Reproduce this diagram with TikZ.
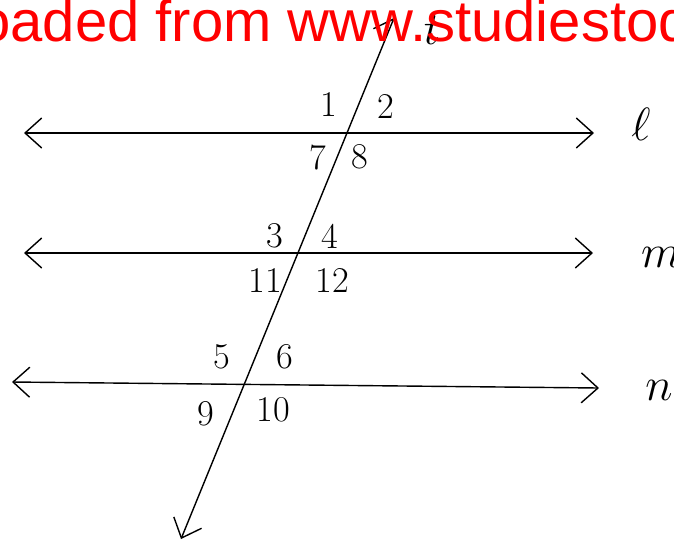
\documentclass[tikz,border=0pt]{standalone}
\usepackage{fontspec}
\newfontfamily\wmfont{Liberation Sans}
\usetikzlibrary{arrows.meta, calc}
\tikzset{
    retta/.style={line width=1.2pt, {Straight Barb[length=5mm,width=9mm,line width=1.2pt]}-{Straight Barb[length=5mm,width=9mm,line width=1.2pt]}},
    angolo/.style={font=\fontsize{31}{31}\selectfont},
    nome/.style={font=\Huge, scale=1.6}
}

\begin{document}
\begin{tikzpicture}[x=0.03cm, y=-0.03cm]
    \useasboundingbox (0,0) rectangle (674,546);
    \clip (0,0) rectangle (674,546);

    % Estremi delle rette parallele e della trasversale
    \coordinate (lA) at (24,133);  \coordinate (lB) at (594,133);
    \coordinate (mA) at (24,253);  \coordinate (mB) at (593,253);
    \coordinate (nA) at (12,382);  \coordinate (nB) at (599,388);
    \coordinate (tA) at (394,18);  \coordinate (tB) at (181,539);

    % Rette l, m, n e trasversale t
    \draw[retta] (lA) -- (lB);
    \draw[retta] (mA) -- (mB);
    \draw[retta] (nA) -- (nB);
    \draw[retta] (tA) -- (tB);

    % Nomi delle rette
    \node[nome] (nl) at (641,124) {$\ell$};
    \node[nome] (nm) at (661,257) {$m$};
    \node[nome] (nn) at (659,390) {$n$};
    \node[nome] (nt) at (432,30) {$t$};

    % Angoli
    \node[angolo] (a1) at (329,104) {1};
    \node[angolo] (a2) at (386,106) {2};
    \node[angolo] (a7) at (318,157) {7};
    \node[angolo] (a8) at (360,157) {8};
    \node[angolo] (a3) at (275,236) {3};
    \node[angolo] (a4) at (330,236) {4};
    \node[angolo] (a11) at (265,280) {11};
    \node[angolo] (a12) at (332,280) {12};
    \node[angolo] (a5) at (222,357) {5};
    \node[angolo] (a6) at (285,357) {6};
    \node[angolo] (a9) at (206,414) {9};
    \node[angolo] (a10) at (273,410) {10};

    % Filigrana
    \node[anchor=base west, inner sep=0pt, text=red, font=\fontsize{49.5}{50}\selectfont\wmfont] (wm) at (-183,41) {Downloaded from www.studiestoday.com};
\end{tikzpicture}
\end{document}
